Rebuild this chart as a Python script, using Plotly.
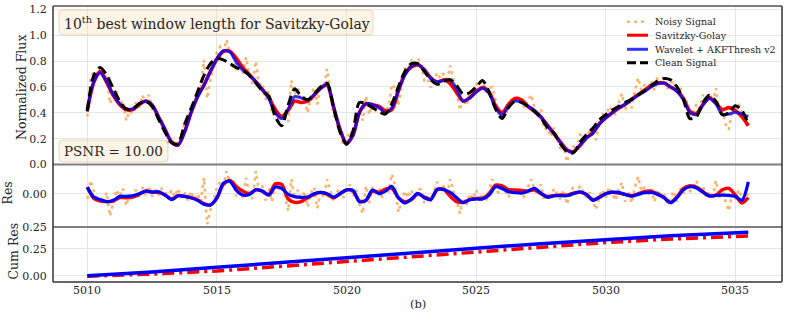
import plotly.graph_objects as go

# ---------------- data ----------------
X_START = 5010.0
STEP = 0.25          # sampling of the smooth curves
FINE_STEP = 0.125    # sampling of the noisy curve

clean = [0.41, 0.69, 0.75, 0.69, 0.59, 0.49, 0.43, 0.43, 0.47, 0.49, 0.45, 0.35, 0.25, 0.17, 0.16, 0.31,
         0.43, 0.56, 0.69, 0.78, 0.82, 0.81, 0.78, 0.75, 0.73, 0.69, 0.63, 0.57, 0.53, 0.37, 0.30, 0.46,
         0.585, 0.53, 0.50, 0.545, 0.60, 0.63, 0.44, 0.25, 0.155, 0.26, 0.48, 0.47, 0.44, 0.41, 0.39, 0.47,
         0.60, 0.72, 0.78, 0.78, 0.72, 0.655, 0.62, 0.645, 0.655, 0.61, 0.545, 0.555, 0.60, 0.65, 0.56, 0.43,
         0.355, 0.44, 0.49, 0.48, 0.45, 0.41, 0.36, 0.285, 0.245, 0.16, 0.10, 0.09, 0.17, 0.23, 0.28, 0.345,
         0.385, 0.42, 0.45, 0.48, 0.505, 0.54, 0.57, 0.61, 0.645, 0.665, 0.655, 0.60, 0.50, 0.355, 0.37, 0.48,
         0.535, 0.49, 0.385, 0.40, 0.455, 0.42, 0.31]

wavelet = [0.42, 0.64, 0.71, 0.64, 0.54, 0.47, 0.43, 0.43, 0.47, 0.49, 0.46, 0.37, 0.27, 0.17, 0.15, 0.25,
           0.40, 0.52, 0.61, 0.72, 0.82, 0.88, 0.87, 0.79, 0.73, 0.69, 0.64, 0.58, 0.51, 0.40, 0.355, 0.43,
           0.525, 0.515, 0.50, 0.54, 0.59, 0.62, 0.45, 0.27, 0.165, 0.23, 0.40, 0.47, 0.465, 0.44, 0.40, 0.44,
           0.57, 0.69, 0.76, 0.775, 0.73, 0.665, 0.64, 0.65, 0.655, 0.585, 0.49, 0.515, 0.56, 0.59, 0.55, 0.44,
           0.38, 0.45, 0.49, 0.48, 0.45, 0.42, 0.37, 0.30, 0.24, 0.17, 0.11, 0.095, 0.15, 0.205, 0.24, 0.31,
           0.36, 0.40, 0.44, 0.465, 0.50, 0.535, 0.565, 0.60, 0.625, 0.63, 0.60, 0.565, 0.50, 0.40, 0.385, 0.46,
           0.51, 0.47, 0.385, 0.39, 0.405, 0.39, 0.37]

savgol = [0.42, 0.635, 0.72, 0.635, 0.535, 0.465, 0.425, 0.425, 0.465, 0.49, 0.46, 0.365, 0.27, 0.175, 0.15, 0.25,
          0.40, 0.525, 0.615, 0.72, 0.815, 0.875, 0.875, 0.82, 0.75, 0.695, 0.64, 0.58, 0.52, 0.425, 0.37, 0.42,
          0.49, 0.48, 0.49, 0.535, 0.59, 0.615, 0.445, 0.27, 0.165, 0.225, 0.405, 0.47, 0.46, 0.45, 0.415, 0.425,
          0.57, 0.70, 0.755, 0.77, 0.735, 0.67, 0.635, 0.655, 0.625, 0.555, 0.49, 0.515, 0.565, 0.595, 0.56, 0.455,
          0.40, 0.465, 0.51, 0.50, 0.45, 0.41, 0.365, 0.305, 0.24, 0.175, 0.115, 0.10, 0.145, 0.205, 0.245, 0.315,
          0.36, 0.40, 0.435, 0.465, 0.505, 0.54, 0.575, 0.61, 0.63, 0.63, 0.60, 0.57, 0.51, 0.41, 0.395, 0.465,
          0.515, 0.475, 0.425, 0.44, 0.415, 0.37, 0.30]

noisy = [0.37, 0.68, 0.71, 0.70, 0.72, 0.66, 0.70, 0.47, 0.53, 0.57, 0.47, 0.495, 0.34, 0.415, 0.39, 0.48,
         0.44, 0.535, 0.48, 0.54, 0.43, 0.43, 0.34, 0.34, 0.27, 0.16, 0.20, 0.135, 0.20, 0.20, 0.32, 0.32,
         0.45, 0.455, 0.56, 0.565, 0.81, 0.51, 0.66, 0.755, 0.87, 0.91, 0.87, 0.965, 0.86, 0.87, 0.73, 0.79,
         0.70, 0.83, 0.69, 0.62, 0.80, 0.62, 0.63, 0.50, 0.57, 0.39, 0.45, 0.33, 0.36, 0.35, 0.33, 0.65,
         0.545, 0.59, 0.47, 0.53, 0.40, 0.53, 0.595, 0.465, 0.62, 0.595, 0.74, 0.58, 0.38, 0.35, 0.29, 0.15,
         0.185, 0.26, 0.24, 0.41, 0.40, 0.34, 0.53, 0.385, 0.49, 0.415, 0.46, 0.37, 0.43, 0.44, 0.62, 0.59,
         0.46, 0.61, 0.74, 0.73, 0.81, 0.745, 0.82, 0.78, 0.65, 0.665, 0.595, 0.65, 0.71, 0.665, 0.705, 0.635,
         0.765, 0.66, 0.56, 0.42, 0.515, 0.455, 0.555, 0.535, 0.63, 0.58, 0.65, 0.56, 0.59, 0.60, 0.48, 0.38,
         0.425, 0.41, 0.41, 0.52, 0.48, 0.53, 0.48, 0.435, 0.50, 0.54, 0.44, 0.375, 0.43, 0.27, 0.285, 0.215,
         0.285, 0.20, 0.12, 0.155, 0.02, 0.10, 0.14, 0.11, 0.23, 0.22, 0.20, 0.265, 0.23, 0.19, 0.325, 0.395,
         0.355, 0.45, 0.42, 0.385, 0.48, 0.55, 0.42, 0.51, 0.435, 0.57, 0.67, 0.575, 0.62, 0.57, 0.65, 0.57,
         0.675, 0.63, 0.675, 0.585, 0.625, 0.65, 0.54, 0.60, 0.50, 0.48, 0.375, 0.39, 0.47, 0.435, 0.54, 0.49,
         0.555, 0.48, 0.59, 0.41, 0.425, 0.31, 0.27, 0.435, 0.415, 0.475, 0.39, 0.32, 0.32]

res_wavelet = [0.05, -0.025, -0.045, -0.06, -0.05, -0.02, -0.02, -0.015, 0.0, 0.02, 0.012, 0.015, -0.01, -0.045,
               -0.015, -0.02, -0.03, -0.05, -0.08, -0.085, -0.03, 0.08, 0.095, 0.025, -0.01, -0.005, 0.03, 0.02,
               -0.01, 0.05, 0.04, -0.005, -0.022, -0.027, -0.025, 0.0, 0.01, 0.0, -0.025, 0.0, 0.028, 0.025,
               -0.06, -0.05, 0.028, 0.0, 0.02, 0.055, -0.03, -0.07, -0.04, 0.002, -0.03, -0.045, 0.035, 0.03,
               0.01, -0.03, -0.068, -0.045, -0.04, -0.04, -0.01, 0.052, 0.04, 0.015, 0.008, 0.005, 0.02, 0.04,
               0.005, -0.027, -0.015, -0.015, -0.015, 0.0, 0.015, -0.005, -0.05, -0.03, 0.0, 0.012, 0.01, -0.005,
               -0.018, -0.005, 0.008, 0.01, -0.005, -0.03, -0.068, -0.03, 0.03, 0.053, 0.043, 0.012, -0.018,
               -0.012, -0.01, -0.013, -0.02, -0.05, 0.09]

res_savgol = [0.05, -0.035, -0.055, -0.06, -0.055, -0.03, -0.03, -0.025, -0.005, 0.02, 0.012, 0.01, -0.01, -0.04,
              -0.015, -0.02, -0.03, -0.045, -0.075, -0.085, -0.035, 0.07, 0.10, 0.055, 0.02, 0.0, 0.03, 0.02,
              -0.005, 0.075, 0.07, -0.04, -0.065, -0.06, -0.03, -0.005, 0.01, -0.005, -0.03, 0.0, 0.03, 0.02,
              -0.055, -0.05, 0.02, 0.01, 0.035, 0.04, -0.03, -0.06, -0.045, 0.0, -0.025, -0.04, 0.03, 0.035,
              -0.02, -0.06, -0.065, -0.045, -0.035, -0.035, 0.0, 0.065, 0.06, 0.03, 0.028, 0.025, 0.02, 0.03,
              0.0, -0.02, -0.015, -0.01, -0.01, 0.005, 0.01, -0.005, -0.045, -0.025, 0.0, 0.01, 0.005, -0.005,
              -0.015, 0.0, 0.018, 0.02, 0.0, -0.03, -0.065, -0.025, 0.04, 0.06, 0.05, 0.015, -0.015,
              -0.01, 0.03, 0.04, -0.01, -0.07, -0.03]

res_noisy = [-0.04, 0.10, 0.02, -0.04, -0.03, -0.07, 0.01, -0.17, -0.06, 0.03, -0.02, 0.04, -0.09, -0.01, -0.04, 0.03,
             -0.03, 0.05, -0.01, 0.06, -0.02, 0.03, -0.01, 0.04, 0.02, -0.04, 0.03, -0.02, 0.04, -0.03, 0.01, -0.05,
             0.02, -0.04, 0.0, -0.06, 0.12, -0.23, -0.12, -0.05, 0.05, 0.09, 0.06, 0.17, 0.08, 0.11, -0.02, 0.05,
             -0.03, 0.12, 0.0, -0.04, 0.17, 0.02, 0.06, -0.05, 0.04, -0.06, 0.08, 0.02, 0.06, -0.02, -0.13, 0.11,
             -0.04, 0.03, -0.06, 0.02, -0.10, 0.01, 0.05, -0.11, 0.02, -0.03, 0.11, 0.03, -0.06, 0.01, 0.04, -0.03,
             0.03, 0.07, -0.02, 0.03, -0.08, -0.15, 0.06, -0.07, 0.05, -0.01, 0.05, -0.03, 0.04, 0.02, 0.15, 0.06,
             -0.14, -0.05, 0.02, -0.03, 0.03, -0.04, 0.04, 0.03, -0.07, -0.02, -0.06, 0.02, 0.09, 0.03, 0.06, -0.02,
             0.11, 0.02, -0.05, -0.15, -0.03, -0.09, 0.0, -0.04, 0.03, -0.05, 0.0, -0.06, 0.03, 0.11, 0.05, 0.0,
             0.07, 0.02, -0.03, 0.05, -0.01, 0.04, 0.0, -0.03, 0.05, 0.11, 0.03, -0.01, 0.07, -0.05, 0.0, -0.05,
             0.04, 0.0, -0.04, 0.03, -0.08, 0.01, 0.05, -0.02, 0.06, 0.02, -0.03, 0.01, -0.05, -0.12, -0.02, 0.03,
             -0.03, 0.05, 0.0, -0.05, 0.03, 0.085, -0.06, 0.02, -0.07, 0.05, 0.13, 0.02, 0.05, -0.02, 0.04, -0.06,
             0.03, -0.03, 0.01, -0.08, -0.03, 0.02, -0.06, 0.04, 0.0, 0.06, 0.02, 0.05, 0.10, 0.01, 0.06, -0.03,
             0.02, -0.04, 0.10, -0.03, 0.04, -0.06, -0.13, 0.0, -0.04, 0.03, -0.03, -0.05, 0.01]

cum_x = [5010.0, 5012.5, 5015.0, 5017.5, 5020.0, 5022.5, 5025.0, 5027.5, 5030.0, 5032.5, 5035.5]
cum_wavelet = [0.0, 0.035, 0.079, 0.125, 0.169, 0.213, 0.257, 0.30, 0.34, 0.375, 0.406]
cum_savgol = [-0.005, 0.015, 0.044, 0.088, 0.131, 0.178, 0.225, 0.268, 0.31, 0.343, 0.372]

x_ticks = [5010, 5015, 5020, 5025, 5030, 5035]
flux_ticks = [0.0, 0.2, 0.4, 0.6, 0.8, 1.0, 1.2]
flux_labels = ["0.0", "0.2", "0.4", "0.6", "0.8", "1.0", "1.2"]
res_ticks = [-0.25, 0.0]
res_labels = ["0.25", "0.00"]
cum_ticks = [0.0, 0.25]
cum_labels = ["0.00", "0.25"]

title_text = "10<sup>th</sup> best window length for Savitzky-Golay"
psnr_text = "PSNR = 10.00"
legend_names = ["Noisy Signal", "Savitzky-Golay", "Wavelet + AKFThresh v2", "Clean Signal"]

# ---------------- geometry / style ----------------
W, H = 789, 327
L, R, T, B = 53, 7, 6, 45
PW, PH = W - L - R, H - T - B
BOTTOM_PX = H - B


def xp(px):
    return (px - L) / PW


def yp(py):
    return (BOTTOM_PX - py) / PH


FONT = "DejaVu Serif"
TXT = "#262626"
GRID = "#e6e6e6"
NOISY_C = "#fbb46c"
RED = "#ff0000"
BLUE_MAIN = "rgba(0,0,255,0.8)"
BLUE = "#0000ff"

xs = [X_START + STEP * i for i in range(len(clean))]
xs_fine = [X_START + FINE_STEP * i for i in range(len(noisy))]

fig = go.Figure()

# main panel
fig.add_trace(go.Scatter(x=xs_fine, y=noisy, mode="lines", xaxis="x3", yaxis="y3",
                         line=dict(color=NOISY_C, width=2.6, dash="3px,4px"), showlegend=False))
fig.add_trace(go.Scatter(x=xs, y=savgol, mode="lines", xaxis="x3", yaxis="y3",
                         line=dict(color=RED, width=3.6, shape="spline", smoothing=0.8), showlegend=False))
fig.add_trace(go.Scatter(x=xs, y=wavelet, mode="lines", xaxis="x3", yaxis="y3",
                         line=dict(color=BLUE_MAIN, width=3, shape="spline", smoothing=0.8), showlegend=False))
fig.add_trace(go.Scatter(x=xs, y=clean, mode="lines", xaxis="x3", yaxis="y3",
                         line=dict(color="black", width=3, dash="10px,5px", shape="spline", smoothing=0.8),
                         showlegend=False))

# residual panel
fig.add_trace(go.Scatter(x=xs_fine, y=res_noisy, mode="lines", xaxis="x2", yaxis="y2",
                         line=dict(color=NOISY_C, width=2.6, dash="3px,4px"), showlegend=False))
fig.add_trace(go.Scatter(x=xs, y=res_savgol, mode="lines", xaxis="x2", yaxis="y2",
                         line=dict(color=RED, width=3.4, shape="spline", smoothing=0.8), showlegend=False))
fig.add_trace(go.Scatter(x=xs, y=res_wavelet, mode="lines", xaxis="x2", yaxis="y2",
                         line=dict(color=BLUE, width=3.2, shape="spline", smoothing=0.8), showlegend=False))

# cumulative residual panel
fig.add_trace(go.Scatter(x=cum_x, y=cum_savgol, mode="lines", xaxis="x", yaxis="y",
                         line=dict(color=RED, width=3.5, dash="12px,5px,3px,5px"), showlegend=False))
fig.add_trace(go.Scatter(x=cum_x, y=cum_wavelet, mode="lines", xaxis="x", yaxis="y",
                         line=dict(color=BLUE, width=3.5), showlegend=False))

XR = [5008.677, 5036.80]
Y_MAIN = [0.4257, 1.0]
Y_RES = [0.1993, 0.4257]
Y_CUM = [0.0, 0.1993]

xcommon = dict(range=XR, tickvals=x_ticks, showgrid=True, gridcolor=GRID, gridwidth=1.3,
               zeroline=False, showline=False, ticks="", automargin=False, showticklabels=False)
ycommon = dict(showgrid=True, gridcolor=GRID, gridwidth=1.3, zeroline=False, showline=False,
               ticks="outside", ticklen=3, tickcolor="rgba(0,0,0,0)", automargin=False,
               tickfont=dict(family=FONT, size=11, color=TXT))

fig.update_layout(
    template="none",
    width=W, height=H,
    margin=dict(l=L, r=R, t=T, b=B, autoexpand=False),
    paper_bgcolor="white", plot_bgcolor="white",
    showlegend=False,
    font=dict(family=FONT, size=11, color=TXT),
    xaxis=dict(**xcommon, anchor="y"),
    xaxis2=dict(**xcommon, anchor="y2", matches="x"),
    xaxis3=dict(**xcommon, anchor="y3", matches="x"),
    yaxis=dict(**ycommon, domain=Y_CUM, range=[-0.059, 0.456], tickvals=cum_ticks, ticktext=cum_labels),
    yaxis2=dict(**ycommon, domain=Y_RES, range=[-0.2515, 0.221], tickvals=res_ticks, ticktext=res_labels),
    yaxis3=dict(**ycommon, domain=Y_MAIN, range=[0, 1.226], tickvals=flux_ticks, ticktext=flux_labels),
)

shapes = []
annots = []

# panel frame lines
SEP = "#7f7f7f"
DARK = "#333333"
for py in (6, 164.5, 227):
    shapes.append(dict(type="line", xref="paper", yref="paper", x0=0, x1=1, y0=yp(py), y1=yp(py),
                       line=dict(color=SEP, width=2), layer="above"))
shapes.append(dict(type="line", xref="paper", yref="paper", x0=0, x1=1, y0=0, y1=0,
                   line=dict(color=DARK, width=1.5), layer="above"))
shapes.append(dict(type="line", xref="paper", yref="paper", x0=0, x1=0, y0=0, y1=1,
                   line=dict(color=DARK, width=1.5), layer="above"))
shapes.append(dict(type="line", xref="paper", yref="paper", x0=1, x1=1, y0=0, y1=1,
                   line=dict(color=DARK, width=1.5), layer="above"))


def rounded_box(x0, y0, x1, y1, r=4):
    X0, X1 = xp(x0), xp(x1)
    Y0, Y1 = yp(y0), yp(y1)   # Y0 is top (higher paper value)
    rx, ry = r / PW, r / PH
    return (f"M {X0+rx},{Y0} L {X1-rx},{Y0} Q {X1},{Y0} {X1},{Y0-ry} "
            f"L {X1},{Y1+ry} Q {X1},{Y1} {X1-rx},{Y1} L {X0+rx},{Y1} Q {X0},{Y1} {X0},{Y1+ry} "
            f"L {X0},{Y0-ry} Q {X0},{Y0} {X0+rx},{Y0} Z")


BOX_FILL = "rgba(245,222,179,0.32)"
BOX_LINE = "rgba(215,190,150,0.55)"
shapes.append(dict(type="path", xref="paper", yref="paper", path=rounded_box(59, 10, 373, 35),
                   fillcolor=BOX_FILL, line=dict(color=BOX_LINE, width=1), layer="above"))
shapes.append(dict(type="path", xref="paper", yref="paper", path=rounded_box(59, 140, 168, 162),
                   fillcolor=BOX_FILL, line=dict(color=BOX_LINE, width=1), layer="above"))

annots.append(dict(text=title_text, xref="paper", yref="paper", x=xp(62), y=yp(22.5),
                   xanchor="left", yanchor="middle", showarrow=False,
                   font=dict(family=FONT, size=14, color=TXT)))
annots.append(dict(text=psnr_text, xref="paper", yref="paper", x=xp(62), y=yp(151),
                   xanchor="left", yanchor="middle", showarrow=False,
                   font=dict(family=FONT, size=13.5, color=TXT)))

# legend (drawn manually for matplotlib-like compact spacing)
rows = [21.7, 35.2, 49.3, 62.7]
styles = [dict(color=NOISY_C, width=2.6, dash="3px,4px"),
          dict(color=RED, width=3),
          dict(color=BLUE_MAIN, width=3),
          dict(color="black", width=3, dash="9px,4px")]
for name, py, st in zip(legend_names, rows, styles):
    shapes.append(dict(type="line", xref="paper", yref="paper", x0=xp(627), x1=xp(648),
                       y0=yp(py), y1=yp(py), line=st, layer="above"))
    annots.append(dict(text=name, xref="paper", yref="paper", x=xp(653), y=yp(py),
                       xanchor="left", yanchor="middle", showarrow=False,
                       font=dict(family=FONT, size=9.5, color=TXT)))

# x tick labels (placed like matplotlib's, just below the bottom spine)
for tv in x_ticks:
    annots.append(dict(text=str(tv), xref="x", yref="paper", x=tv, y=yp(290),
                       xanchor="center", yanchor="middle", showarrow=False,
                       font=dict(family=FONT, size=11, color=TXT)))

# axis titles
annots.append(dict(text="Normalized Flux", xref="paper", yref="paper", x=xp(21.5), y=yp(87.5),
                   xanchor="center", yanchor="middle", textangle=-90, showarrow=False,
                   font=dict(family=FONT, size=12.5, color=TXT)))
annots.append(dict(text="Res", xref="paper", yref="paper", x=xp(6.5), y=yp(193),
                   xanchor="center", yanchor="middle", textangle=-90, showarrow=False,
                   font=dict(family=FONT, size=12.5, color=TXT)))
annots.append(dict(text="Cum Res", xref="paper", yref="paper", x=xp(13.5), y=yp(251),
                   xanchor="center", yanchor="middle", textangle=-90, showarrow=False,
                   font=dict(family=FONT, size=12.5, color=TXT)))
annots.append(dict(text="(b)", xref="paper", yref="paper", x=xp(417.5), y=yp(304),
                   xanchor="center", yanchor="middle", showarrow=False,
                   font=dict(family=FONT, size=11.5, color=TXT)))

fig.update_layout(shapes=shapes, annotations=annots)
# the page's default 8px body margin would shift the figure; remove it
fig.write_html("out.html", config={"displayModeBar": False},
               post_script="document.body.style.margin='0px';")
